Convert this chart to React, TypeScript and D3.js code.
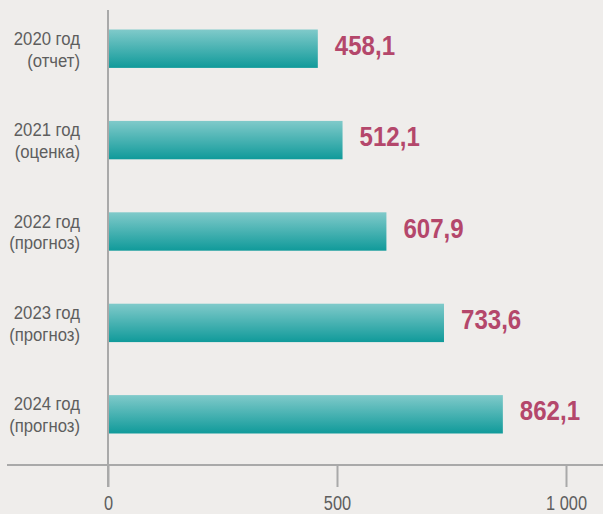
import { useRef, useEffect } from 'react';
import * as d3 from 'd3';

const years = ['2020 год', '2021 год', '2022 год', '2023 год', '2024 год'];
const notes = ['(отчет)', '(оценка)', '(прогноз)', '(прогноз)', '(прогноз)'];
const values = [458.1, 512.1, 607.9, 733.6, 862.1];
const ticks = [0, 500, 1000];

const fmt = (v: number) => v.toFixed(1).replace('.', ',');
const tickFmt = (v: number) => (v >= 1000 ? `${Math.floor(v / 1000)} ${String(v % 1000).padStart(3, '0')}` : String(v));

const FONT = '"Liberation Sans", Arial, sans-serif';

export default function App() {
  const svgRef = useRef<SVGSVGElement>(null);

  useEffect(() => {
    if (!svgRef.current) return;
    const svg = d3.select(svgRef.current);
    svg.selectAll('*').remove();

    const W = 603, H = 514;
    const x = d3.scaleLinear().domain([0, 1000]).range([108, 566]);
    const y = d3.scaleBand().domain(years).range([3, 460]).paddingInner(0.58).paddingOuter(0.29);

    svg.append('rect').attr('width', W).attr('height', H).attr('fill', '#efedeb');

    const defs = svg.append('defs');
    const grad = defs.append('linearGradient').attr('id', 'barGrad')
      .attr('x1', 0).attr('y1', 0).attr('x2', 0).attr('y2', 1);
    grad.append('stop').attr('offset', '0%').attr('stop-color', '#80caca');
    grad.append('stop').attr('offset', '100%').attr('stop-color', '#109a9a');

    // bars
    svg.selectAll('.bar').data(values).join('rect')
      .attr('class', 'bar')
      .attr('x', x(0) + 1)
      .attr('y', (_, i) => y(years[i]) ?? 0)
      .attr('width', (d) => x(d) - x(0) - 1)
      .attr('height', y.bandwidth())
      .attr('fill', 'url(#barGrad)');

    // value labels (condensed look via horizontal scale)
    svg.selectAll('.val').data(values).join('text')
      .attr('class', 'val')
      .attr('transform', (d, i) => `translate(${x(d) + 17},${(y(years[i]) ?? 0) + y.bandwidth() / 2 + 6}) scale(0.86,1)`)
      .attr('font-family', FONT).attr('font-weight', 'bold').attr('font-size', 28)
      .attr('fill', '#b4476b')
      .text((d) => fmt(d));

    // category labels
    years.forEach((yr, i) => {
      const cy = (y(yr) ?? 0) + y.bandwidth() / 2;
      const g = svg.append('g').attr('transform', `translate(80,${cy}) scale(0.88,1)`);
      const t = g.append('text').attr('text-anchor', 'end')
        .attr('font-family', FONT).attr('font-size', 19).attr('fill', '#5e5e5e');
      t.append('tspan').attr('x', 0).attr('y', -4).text(yr);
      t.append('tspan').attr('x', 0).attr('y', 18).text(notes[i]);
    });

    // axes
    const axisColor = '#a9a9a9';
    svg.append('line').attr('x1', 7).attr('x2', W).attr('y1', 465).attr('y2', 465)
      .attr('stroke', axisColor).attr('stroke-width', 2);
    svg.append('line').attr('x1', x(0)).attr('x2', x(0)).attr('y1', 10).attr('y2', 487)
      .attr('stroke', axisColor).attr('stroke-width', 2);

    const axis = svg.append('g').attr('transform', 'translate(0,465)')
      .call(d3.axisBottom(x).tickValues(ticks).tickSize(22).tickFormat((d) => tickFmt(d as number)));
    axis.select('.domain').remove();
    axis.selectAll('line').attr('stroke', axisColor).attr('stroke-width', 2);
    axis.selectAll('text')
      .attr('y', 0).attr('dy', 0)
      .attr('transform', 'translate(0,45) scale(0.78,1)')
      .attr('fill', '#5e5e5e').attr('font-size', 21).attr('font-family', FONT);
  }, []);

  return (
    <svg ref={svgRef} width={603} height={514}
      style={{ position: 'absolute', left: 0, top: 0, display: 'block' }} />
  );
}
